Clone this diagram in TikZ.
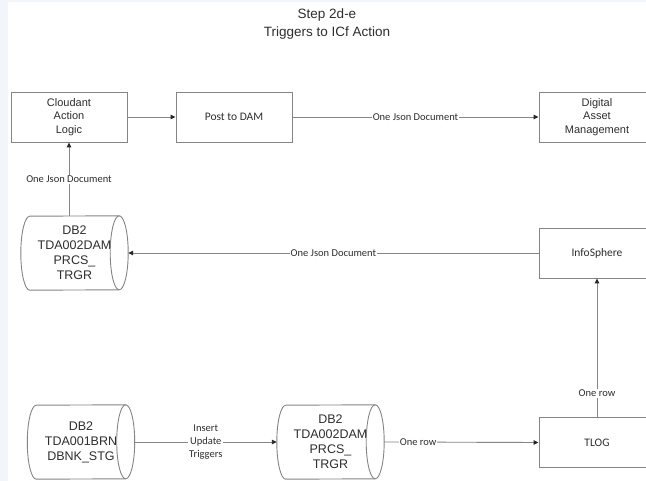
\documentclass[tikz,border=0pt]{standalone}
\usepackage{fontspec}
\setmainfont{Liberation Sans}
\newfontfamily\calfont{Carlito}
\usetikzlibrary{arrows.meta}
\definecolor{bgstrip}{HTML}{F2F5F9}
\definecolor{edge}{HTML}{858585}
\definecolor{txt}{HTML}{2E2E2E}
\newcommand\dbshape[1]{%
  \draw[dbline] (#1.north east) arc[start angle=90,end angle=-90,x radius=9pt,y radius=37pt]
     -- (#1.south west) arc[start angle=270,end angle=90,x radius=9pt,y radius=37pt] -- cycle;
  \draw[dbline] (#1.north east) arc[start angle=90,end angle=270,x radius=9pt,y radius=37pt];}
\begin{document}
\begin{tikzpicture}[x=1pt,y=-1pt,
  box/.style={draw=edge,line width=0.9pt,fill=white,minimum width=116pt,minimum height=50pt,
    inner sep=0pt,align=center,text=txt,font=\fontsize{11}{13.5}\selectfont},
  cbox/.style={box,font=\calfont\fontsize{11.5}{13.5}\selectfont},
  dbbody/.style={minimum width=89pt,minimum height=74pt,inner sep=0pt,align=center,
    text=txt,font=\fontsize{12.5}{15}\selectfont},
  dbline/.style={draw=edge,line width=0.9pt},
  conn/.style={draw=edge,line width=0.9pt,-{Triangle[length=5pt,width=4.5pt,color=black!85]}},
  lbl/.style={fill=white,inner sep=1pt,text=txt,font=\calfont\fontsize{10.5}{13}\selectfont,align=center},
  titlestyle/.style={align=center,text=txt,font=\fontsize{13.5}{18}\selectfont}
]
\useasboundingbox (0,0) rectangle (646,481);
\fill[bgstrip] (0,0) rectangle (646,481);
\fill[white] (8,2) rectangle (646,481);
\clip (0,0) rectangle (646,481);

\node[titlestyle] (title) at (327,24) {Step 2d-e\\Triggers to ICf Action};

\node[box]  (cloud) at (69,117)    {Cloudant\\Action\\Logic};
\node[cbox] (post)  at (234,117)   {Post to DAM};
\node[box]  (dam)   at (597,117)   {Digital\\Asset\\Management};
\node[cbox] (info)  at (597,253)   {InfoSphere};
\node[cbox] (tlog)  at (597,442.5) {TLOG};

\node[dbbody] (dbA) at (74.5,253) {DB2\\TDA002DAM\\PRCS\_\\TRGR};
\node[dbbody] (dbB) at (81,442)   {DB2\\TDA001BRN\\DBNK\_STG};
\node[dbbody] (dbC) at (330.5,442) {DB2\\TDA002DAM\\PRCS\_\\TRGR};
\dbshape{dbA}
\dbshape{dbB}
\dbshape{dbC}

\draw[conn] (cloud.east) -- (post.west);
\draw[conn] (post.east) -- node[lbl]{One Json Document} (dam.west);
\draw[conn] (cloud.south |- dbA.north) -- node[lbl]{One Json Document} (cloud.south);
\draw[conn] (info.west) -- node[lbl]{One Json Document} ([xshift=9pt]dbA.east);
\draw[conn] ([xshift=9pt]dbB.east) -- node[lbl]{Insert\\Update\\Triggers} ([xshift=-9pt]dbC.west);
\draw[conn] ([xshift=9pt]dbC.east) -- node[lbl,pos=0.22]{One row} (tlog.west);
\draw[conn] (tlog.north) -- node[lbl,pos=0.17]{One row} (info.south);
\end{tikzpicture}
\end{document}
